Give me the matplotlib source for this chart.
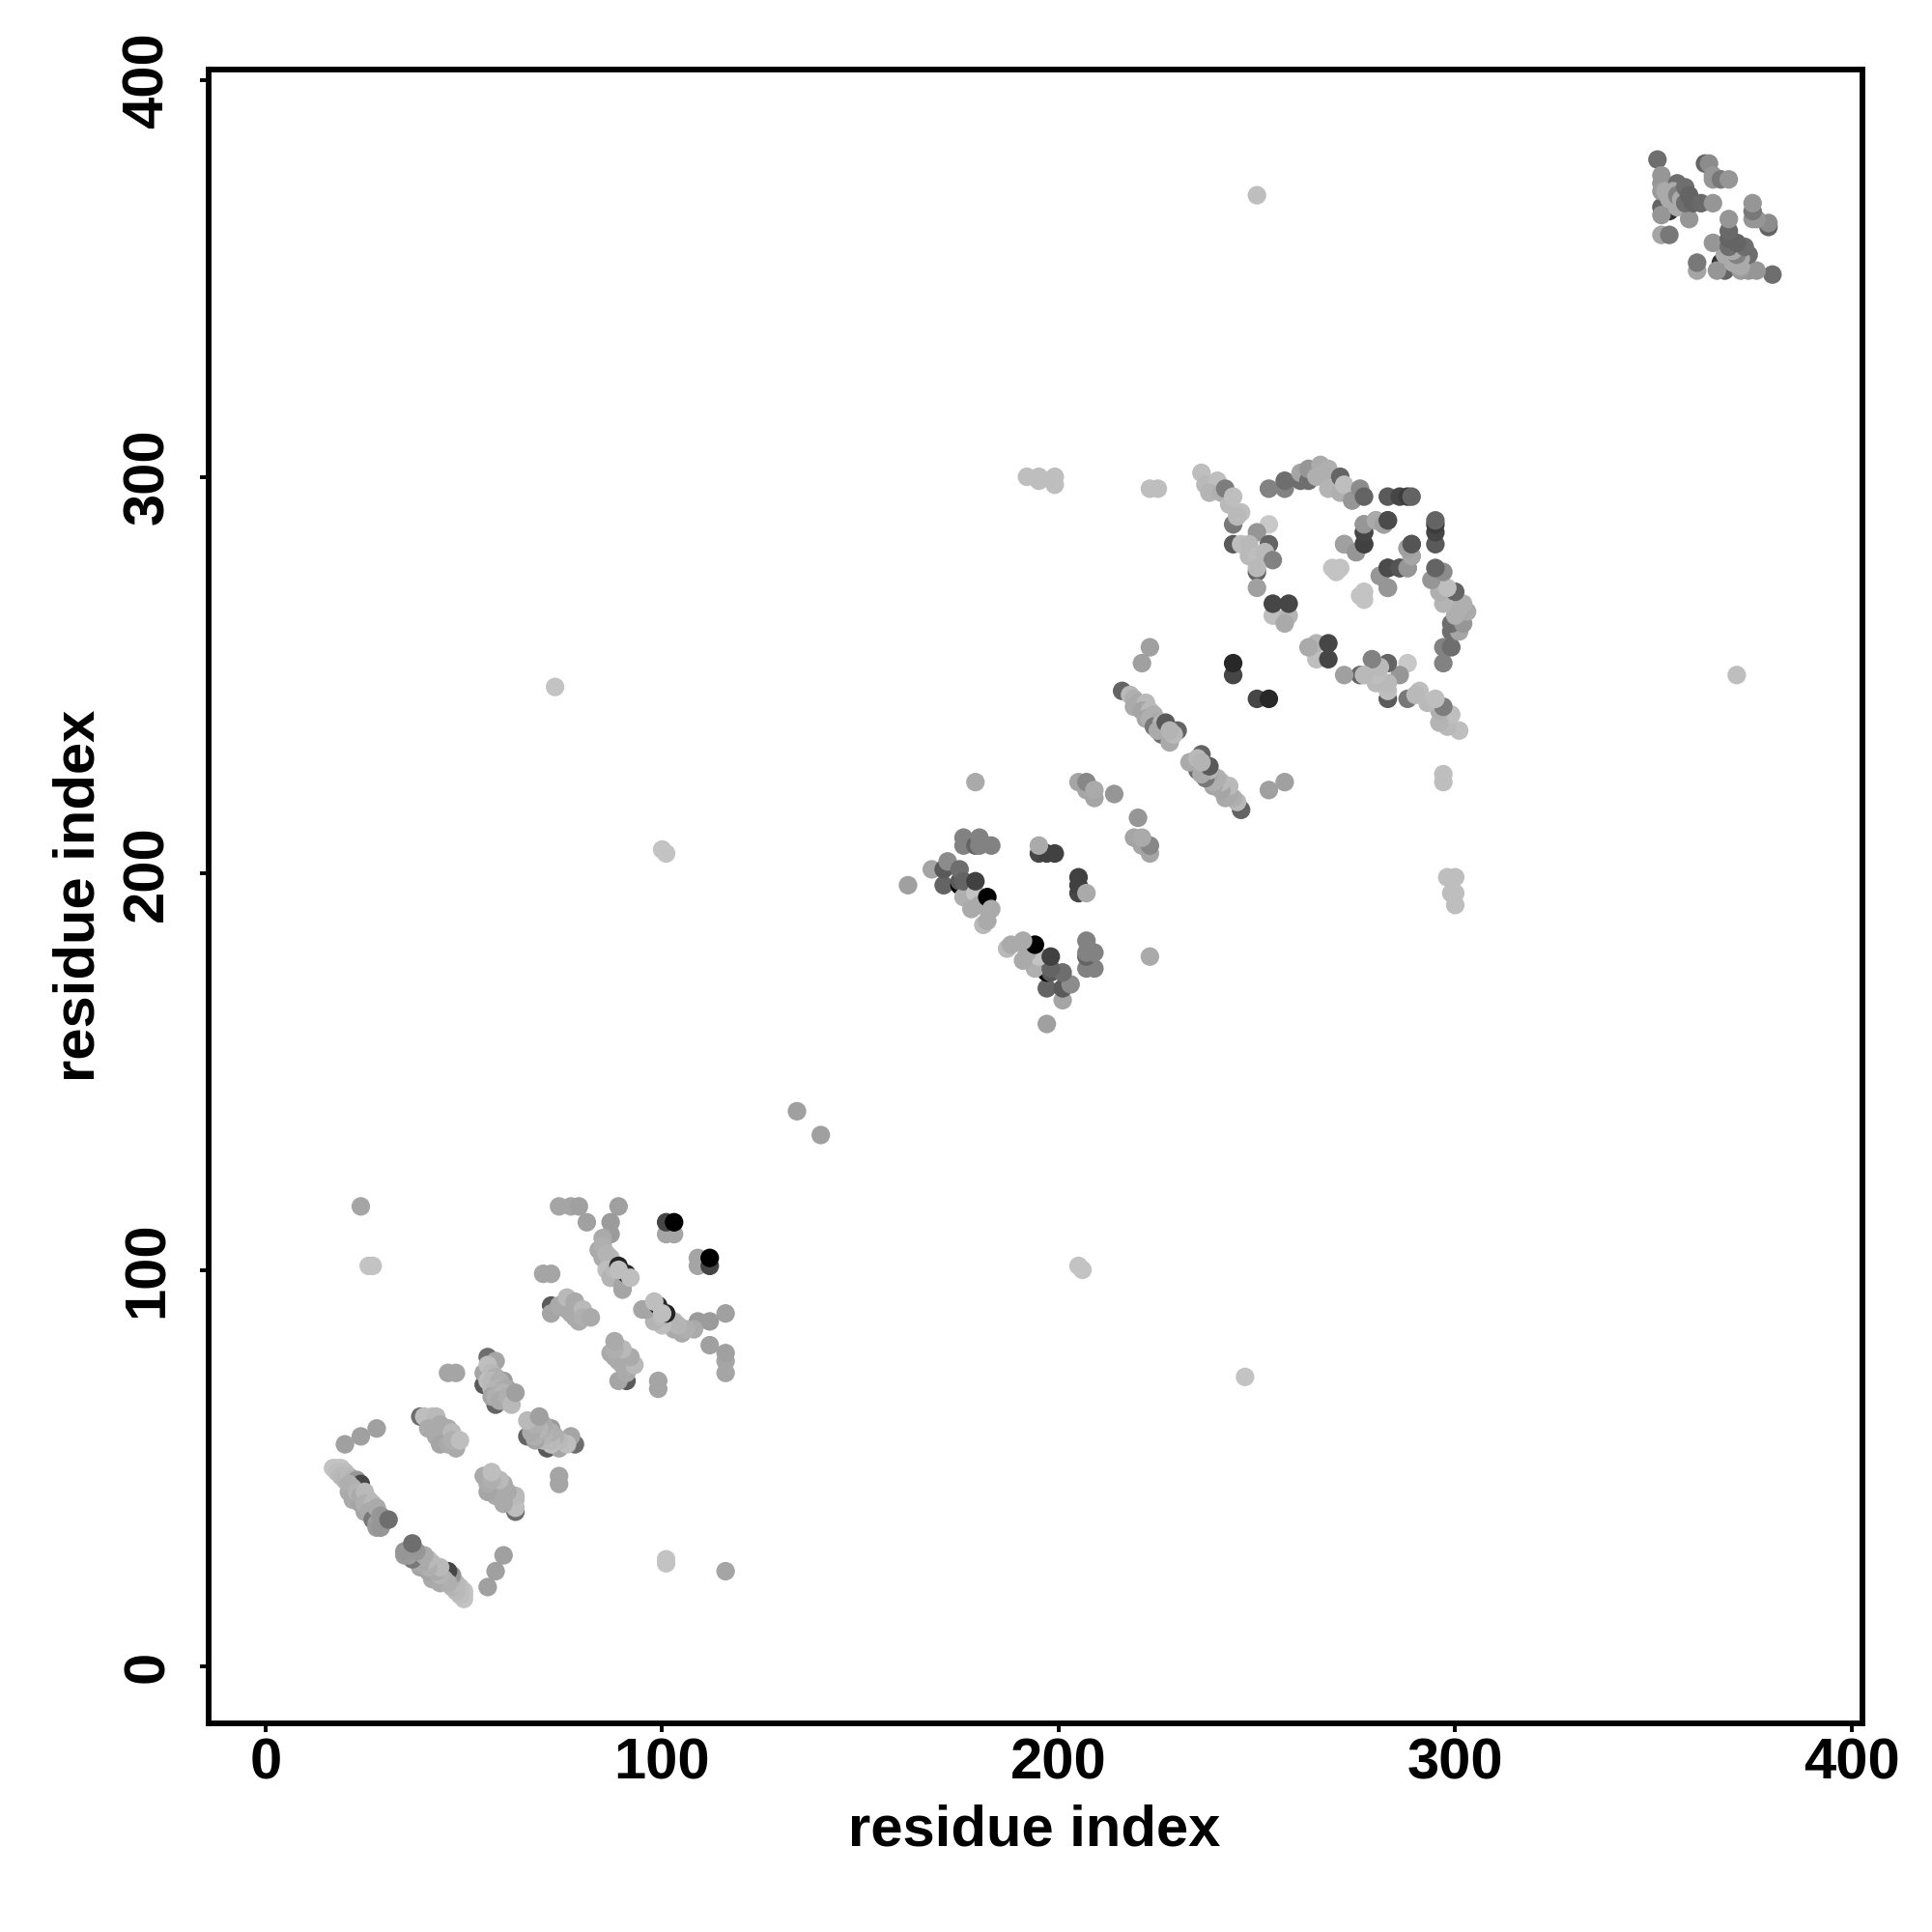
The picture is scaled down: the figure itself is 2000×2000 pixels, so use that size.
import numpy as np
import matplotlib
matplotlib.use("Agg")
import matplotlib.pyplot as plt

plt.rcParams["font.family"] = ["Liberation Sans", "DejaVu Sans"]

# contacts as (residue i, residue j, grey 0-255), i < j
# the map is symmetric so every contact is drawn twice
strands_a = [(18, 50, 195), (17, 50, 195), (19, 50, 195), (18, 49, 190), (20, 49, 190), (19, 48, 185),
             (20, 47, 180), (21, 48, 185), (22, 47, 180), (23, 47, 150),
             (24, 46, 70), (21, 44, 170), (22, 42, 170), (21, 46, 175), (22, 45, 175), (22, 43, 170),
             (23, 44, 180), (24, 41, 165), (24, 43, 170), (25, 39, 165), (25, 44, 185), (26, 42, 185),
             (25, 41, 175), (27, 41, 185), (26, 39, 170), (27, 37, 120), (28, 36, 160), (28, 35, 155),
             (28, 40, 170), (29, 38, 150), (29, 35, 150), (31, 37, 110)]
strands_b = [(39, 63, 110), (40, 63, 190), (42, 63, 190), (43, 63, 185), (41, 60, 170), (44, 61, 170),
             (43, 58, 170), (46, 60, 170), (45, 59, 170), (47, 59, 185), (44, 56, 165), (46, 56, 170),
             (48, 55, 170), (47, 57, 175), (49, 57, 190)]
strands_c = [(56, 78, 110), (55, 71, 90), (58, 66, 100), (58, 77, 165), (55, 74, 165), (56, 76, 190),
             (57, 74, 185), (56, 72, 190), (58, 73, 175), (60, 72, 155), (57, 72, 185), (57, 70, 185),
             (59, 72, 175), (59, 70, 185), (58, 70, 180), (60, 70, 175), (61, 70, 170), (57, 68, 165),
             (58, 68, 175), (60, 69, 180), (59, 67, 170), (60, 67, 170), (61, 68, 175), (62, 66, 185),
             (63, 69, 160), (46, 74, 165), (48, 74, 165)]
strands_d = [(70, 99, 165), (72, 99, 165), (72, 91, 90), (72, 89, 165), (74, 91, 170), (76, 90, 170),
             (76, 93, 185), (78, 92, 170), (77, 89, 170), (78, 88, 170), (79, 87, 170), (80, 90, 185),
             (80, 88, 175), (82, 88, 170)]
strands_e = [(74, 116, 165), (77, 116, 165), (79, 116, 160), (81, 112, 160), (89, 116, 160), (87, 112, 155),
             (87, 109, 155), (85, 108, 170), (84, 105, 170), (85, 106, 175), (85, 103, 170), (87, 103, 185),
             (86, 104, 180), (86, 100, 190), (87, 98, 180), (88, 100, 185), (90, 96, 165), (90, 95, 165),
             (89, 101, 35), (91, 99, 40), (89, 100, 190), (92, 98, 190), (101, 109, 165), (103, 109, 165),
             (101, 112, 70), (103, 112, 0)]
strands_f = [(162, 197, 160), (168, 201, 165), (171, 197, 100), (171, 201, 90), (172, 203, 140),
             (175, 197, 0), (175, 198, 90), (175, 201, 110), (176, 194, 175), (176, 198, 100),
             (179, 195, 195), (178, 191, 170), (180, 192, 170), (179, 198, 65), (182, 194, 0),
             (181, 187, 185), (182, 188, 170), (183, 191, 170), (176, 209, 130), (176, 207, 130),
             (179, 207, 100), (180, 209, 130), (180, 207, 130), (183, 207, 130), (195, 205, 70),
             (197, 205, 65), (199, 205, 65), (195, 207, 170)]
strands_g = [(205, 223, 165), (207, 221, 165), (209, 219, 165), (207, 223, 135), (209, 221, 170),
             (214, 220, 150), (179, 223, 170), (221, 253, 160), (223, 257, 160)]
strands_h = [(216, 246, 100), (218, 245, 185), (219, 244, 175), (219, 242, 170), (220, 243, 170),
             (222, 243, 185), (221, 241, 165), (223, 241, 185), (222, 239, 165), (223, 239, 175),
             (224, 240, 175), (225, 238, 170), (224, 237, 120), (226, 238, 180), (227, 236, 170),
             (226, 235, 110), (225, 236, 170), (228, 233, 170), (227, 238, 90), (230, 236, 100),
             (229, 235, 185), (228, 236, 180)]
strands_i = [(236, 301, 190), (237, 298, 185), (240, 299, 190), (238, 296, 180), (241, 296, 175),
             (242, 297, 125), (243, 293, 185), (244, 295, 190), (246, 291, 190), (244, 288, 120),
             (245, 290, 185), (253, 288, 200), (250, 286, 150), (244, 283, 90), (246, 283, 190),
             (248, 283, 185), (253, 283, 100), (248, 280, 185), (250, 280, 190), (252, 281, 185),
             (254, 279, 130), (250, 276, 100), (250, 277, 185), (250, 272, 160), (254, 265, 190),
             (258, 265, 180), (257, 263, 170), (254, 268, 70), (258, 268, 70), (244, 250, 70), (244, 253, 40)]
strands_j = [(253, 297, 130), (257, 297, 130), (257, 299, 110), (261, 300, 120), (261, 299, 110),
             (261, 301, 165), (263, 299, 110), (263, 302, 150), (266, 303, 170), (265, 300, 175),
             (267, 301, 175), (268, 302, 175), (268, 297, 180), (271, 300, 100), (271, 296, 175),
             (272, 298, 190), (274, 294, 150), (276, 297, 140), (277, 295, 100), (283, 295, 90),
             (286, 295, 70), (288, 295, 60), (289, 295, 100), (272, 283, 150), (275, 281, 150),
             (277, 283, 75), (277, 286, 85), (277, 288, 150), (280, 289, 165), (282, 288, 160),
             (283, 289, 85), (283, 272, 160), (281, 275, 150), (283, 277, 65), (286, 277, 70),
             (288, 277, 150), (289, 280, 170), (288, 282, 160), (289, 283, 75), (269, 277, 195),
             (271, 277, 195), (270, 276, 195)]
strands_k = [(353, 368, 60), (354, 367, 50), (355, 369, 50), (352, 368, 100), (351, 380, 110), (352, 376, 150),
             (352, 374, 150), (352, 372, 155), (352, 366, 150), (353, 372, 170), (354, 370, 170),
             (352, 361, 165), (354, 361, 120), (356, 374, 110), (357, 372, 180), (356, 368, 170),
             (355, 372, 170), (356, 371, 130), (357, 370, 170), (358, 373, 110), (359, 365, 150),
             (358, 369, 110), (360, 369, 100), (359, 371, 100), (362, 369, 105), (363, 379, 100),
             (364, 379, 140), (365, 376, 150), (365, 375, 150), (367, 375, 120), (369, 375, 150),
             (365, 369, 150)]
lone_contacts = [(20, 56, 160), (24, 58, 160), (28, 60, 160), (24, 116, 165), (26, 101, 195), (27, 101, 195),
                 (134, 140, 160), (73, 247, 195), (100, 206, 195), (101, 205, 195), (250, 371, 190),
                 (192, 300, 190), (195, 300, 190), (195, 299, 190), (199, 300, 190), (199, 298, 190),
                 (223, 297, 190), (225, 297, 190)]

tick_vals = [0, 100, 200, 300, 400]

contacts = np.array(strands_a + strands_b + strands_c + strands_d + strands_e + strands_f + strands_g
                    + strands_h + strands_i + strands_j + strands_k + lone_contacts, dtype=float)
xs = np.concatenate([contacts[:, 0], contacts[:, 1]])
ys = np.concatenate([contacts[:, 1], contacts[:, 0]])
shades = np.concatenate([contacts[:, 2], contacts[:, 2]])
colors = [(g / 255, g / 255, g / 255) for g in shades]

fig = plt.figure(figsize=(10, 10), dpi=200)
ax = fig.add_axes([216 / 2000, 1 - 1784 / 2000, (1928 - 216) / 2000, (1784 - 72) / 2000])
ax.scatter(xs, ys, s=48, c=colors, linewidths=0, zorder=2)

ax.set_xlim(-14.37, 402.7)
ax.set_ylim(-14.37, 402.7)
ax.set_xticks(tick_vals)
ax.set_yticks(tick_vals)
ax.tick_params(length=3.2, width=1.4, labelsize=21.5)
ax.tick_params(axis="x", pad=2)
ax.tick_params(axis="y", pad=9.5)
for lab in ax.get_xticklabels():
    lab.set_fontweight("bold")
for lab in ax.get_yticklabels():
    lab.set_fontweight("bold")
    lab.set_rotation(90)
    lab.set_va("center")
for side in ax.spines.values():
    side.set_linewidth(2.1)

fig.text(1071 / 2000, 1 - 1895 / 2000, "residue index", fontsize=21.5, fontweight="bold", ha="center", va="center")
fig.text(82 / 2000, 1 - 927 / 2000, "residue index", fontsize=21.5, fontweight="bold", ha="center", va="center",
         rotation=90)

fig.savefig("out.png", dpi=200)
